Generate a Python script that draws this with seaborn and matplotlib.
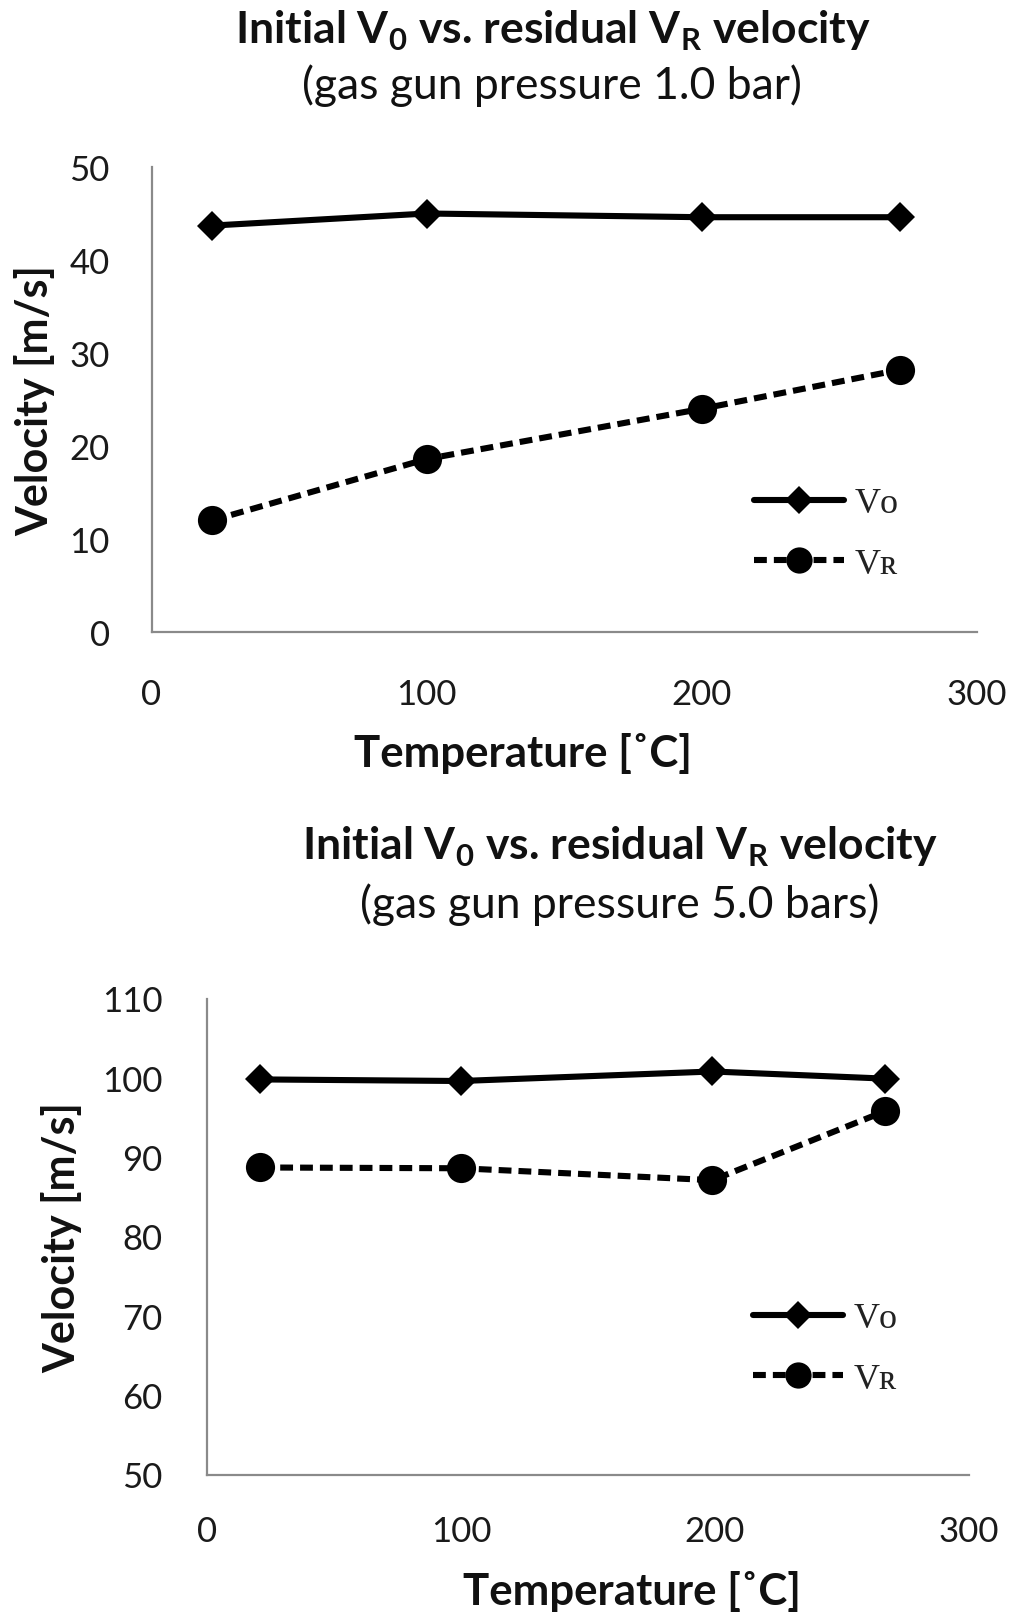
import matplotlib
matplotlib.use("Agg")
import matplotlib.pyplot as plt
import seaborn as sns
import pandas as pd

# ---- data ----
temp_1bar = [22, 100, 200, 272]
v0_1bar = [43.7, 45.0, 44.6, 44.6]
vr_1bar = [12.0, 18.6, 24.0, 28.2]

temp_5bar = [21, 100, 199, 267]
v0_5bar = [99.8, 99.6, 100.8, 99.9]
vr_5bar = [88.7, 88.6, 87.1, 95.8]

xticks = [0, 100, 200, 300]
yticks_1bar = [0, 10, 20, 30, 40, 50]
yticks_5bar = [50, 60, 70, 80, 90, 100, 110]

title_main = r"Initial V$_\mathbf{0}$ vs. residual V$_\mathbf{R}$ velocity"
subtitle_1bar = "(gas gun pressure 1.0 bar)"
subtitle_5bar = "(gas gun pressure 5.0 bars)"
xlabel = "Temperature [˚C]"
ylabel = "Velocity [m/s]"
legend_labels = ["Vᴏ", "Vʀ"]

sns.set_theme(style="white")
plt.rcParams["font.family"] = ["Lato", "DejaVu Sans"]
plt.rcParams["mathtext.fontset"] = "custom"
plt.rcParams["mathtext.rm"] = "Lato"
plt.rcParams["mathtext.bf"] = "Lato:bold"

W, H = 1017, 1615
fig = plt.figure(figsize=(W / 100, H / 100), dpi=100)
fig.patch.set_facecolor("white")

spine_col = "#8a8a8a"
LW = 4.4


def make_panel(rect_px, temps, v0, vr, yticks, ylim, title_xy, sub_xy,
               xlabel_xy, ylabel_x, leg_anchor, ypad, xpad, subtitle):
    l, t, r, b = rect_px
    ax = fig.add_axes([l / W, 1 - b / H, (r - l) / W, (b - t) / H])
    df = pd.DataFrame({"T": temps, "V0": v0, "VR": vr})
    sns.lineplot(data=df, x="T", y="V0", ax=ax, color="black", lw=LW,
                 marker="D", markersize=15.5, markeredgewidth=0,
                 label=legend_labels[0], clip_on=False)
    sns.lineplot(data=df, x="T", y="VR", ax=ax, color="black", lw=LW,
                 linestyle=(0, (2.1, 1.15)), marker="o", markersize=21,
                 markeredgewidth=0, label=legend_labels[1], clip_on=False)
    ax.set_xlim(0, 300)
    ax.set_ylim(*ylim)
    ax.set_xticks(xticks)
    ax.set_yticks(yticks)
    ax.tick_params(axis="both", length=0, labelsize=25, colors="#1a1a1a")
    ax.tick_params(axis="y", pad=ypad)
    ax.tick_params(axis="x", pad=xpad)
    for s in ["top", "right"]:
        ax.spines[s].set_visible(False)
    for s in ["left", "bottom"]:
        ax.spines[s].set_color(spine_col)
        ax.spines[s].set_linewidth(1.6)
    ax.grid(False)
    ax.set_xlabel(xlabel, fontsize=31.5, fontweight="bold", color="#111111")
    ax.set_ylabel(ylabel, fontsize=31, fontweight="bold", color="#111111")
    ax.xaxis.set_label_coords((xlabel_xy[0] - l) / (r - l),
                              (b - xlabel_xy[1]) / (b - t))
    ax.xaxis.label.set_va("center")
    ax.yaxis.set_label_coords((ylabel_x - l) / (r - l), 0.5)
    ax.yaxis.label.set_va("center")
    leg = ax.legend(loc="center left",
                    bbox_to_anchor=((leg_anchor[0] - l) / (r - l),
                                    (b - leg_anchor[1]) / (b - t)),
                    frameon=False, borderpad=0, borderaxespad=0,
                    handlelength=2.5, handletextpad=0.3, labelspacing=0.75,
                    markerscale=0.9,
                    prop={"family": ["Liberation Serif", "DejaVu Serif"],
                          "size": 26})
    for txt in leg.get_texts():
        txt.set_color("#222222")
    fig.text(title_xy[0] / W, 1 - title_xy[1] / H, title_main,
             ha="center", va="center", fontsize=32, fontweight="bold",
             color="#111111")
    fig.text(sub_xy[0] / W, 1 - sub_xy[1] / H, subtitle,
             ha="center", va="center", fontsize=32, color="#111111")
    return ax


make_panel((151.5, 168, 977, 633), temp_1bar, v0_1bar, vr_1bar,
           yticks_1bar, (0, 50), (553, 31), (552, 86), (523, 754), 35,
           (754, 535), 30, 33, subtitle_1bar)
make_panel((207, 999.5, 969, 1475.5), temp_5bar, v0_5bar, vr_5bar,
           yticks_5bar, (50, 110), (620, 847), (620, 905), (632, 1592), 62,
           (753, 1350), 32, 29, subtitle_5bar)

fig.savefig("out.png", dpi=100, facecolor="white")
